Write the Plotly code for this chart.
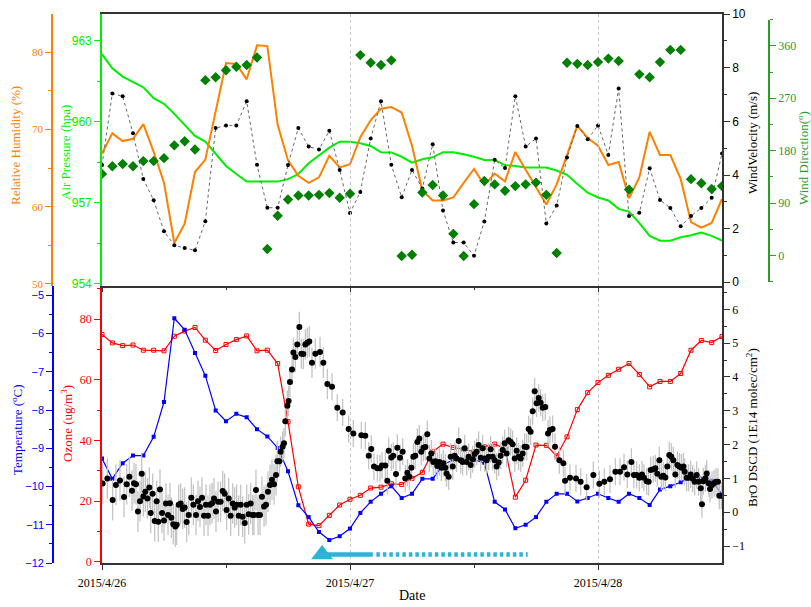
import pandas as pd
import plotly.graph_objects as go

# ---------------- data ----------------
BASE = pd.Timestamp("2015-04-26")
hours = list(range(61))

rh = [66.9, 69.5, 68.5, 68.8, 70.7, 67.1, 63.1, 55.3, 57.8, 64.5, 66.1, 72.5, 78.6, 78.5, 76.5,
      80.9, 80.8, 70.6, 66.0, 64.0, 63.1, 63.8, 66.6, 65.1, 65.5, 69.0, 71.2, 72.7, 72.9, 72.2,
      67.9, 62.1, 60.8, 60.8, 61.2, 63.1, 64.9, 62.8, 64.3, 63.3, 67.1, 64.8, 62.6, 60.3, 62.9,
      66.6, 70.5, 68.9, 67.9, 65.4, 65.8, 61.1, 63.8, 69.7, 66.7, 66.7, 63.6, 58.0, 57.3, 57.9, 61.0]
pressure = [962.51, 961.99, 961.68, 961.49, 961.28, 960.88, 960.67, 960.30, 959.89, 959.48, 959.27,
            958.81, 958.37, 958.07, 957.79, 957.79, 957.79, 957.79, 957.88, 958.07, 958.47, 958.75,
            959.05, 959.27, 959.27, 959.21, 959.11, 958.88, 958.87, 958.71, 958.49, 958.62, 958.69,
            958.88, 958.88, 958.80, 958.71, 958.59, 958.59, 958.40, 958.37, 958.31, 958.31, 958.31,
            958.20, 958.04, 957.70, 957.38, 957.20, 957.09, 956.78, 956.68, 956.25, 955.78, 955.60,
            955.60, 955.73, 955.80, 955.90, 955.78, 955.60]
wind_speed = [4.37, 7.04, 6.94, 5.56, 3.85, 3.06, 1.90, 1.38, 1.28, 1.19, 2.28, 5.75, 5.85, 5.85,
              6.75, 4.38, 2.78, 2.78, 4.37, 5.75, 5.06, 4.95, 5.65, 4.19, 2.58, 3.37, 5.36, 6.75,
              4.38, 3.17, 4.19, 3.50, 5.15, 2.68, 1.48, 1.48, 0.99, 2.27, 4.57, 4.26, 6.94, 5.06,
              5.36, 2.19, 2.86, 4.65, 5.83, 5.33, 5.85, 4.75, 7.23, 2.47, 2.59, 4.25, 3.07, 2.77,
              2.09, 2.47, 2.77, 3.15, 4.80]
wind_dir = [140, 153, 157, 153, 162, 162, 167, 189, 196, 182, 301, 306, 318, 324, 327, 340, 11, 68,
            96, 103, 103, 104, 107, 99, 106, 344, 331, 327, 335, -1, 1, 108, 121, 103, 37, -1, 88,
            128, 122, 111, 119, 122, 125, 104, 4, 331, 329, 327, 332, 338, 334, 113, 311, 306, 332,
            353, 353, 131, 124, 114, 119]
ozone = [75.0, 72.2, 71.3, 71.5, 69.8, 69.8, 69.6, 74.4, 76.1, 77.3, 73.1, 69.7, 71.7, 73.3, 74.5,
         69.6, 69.8, 65.4, 46.2, 24.7, 12.4, 11.9, 15.3, 18.7, 20.6, 21.9, 24.3, 24.6, 25.7, 25.5,
         27.5, 29.5, 36.3, 38.8, 37.7, 37.1, 36.3, 37.9, 38.8, 37.4, 21.3, 26.9, 38.5, 38.4, 34.9,
         41.2, 50.2, 55.8, 59.1, 61.5, 63.5, 65.4, 61.8, 57.7, 59.5, 59.5, 62.1, 69.8, 73.0, 72.3, 74.3]
temperature = [-9.27, -9.80, -9.39, -9.19, -9.19, -8.70, -7.79, -5.60, -5.90, -6.51, -7.10, -8.01,
               -8.29, -8.10, -8.19, -8.50, -8.69, -8.99, -9.60, -10.49, -10.80, -11.19, -11.40,
               -11.30, -11.10, -10.69, -10.40, -10.19, -9.99, -10.30, -10.19, -9.80, -9.80, -9.43,
               -9.30, -9.30, -9.30, -9.38, -10.40, -10.60, -11.09, -11.00, -10.80, -10.40, -10.19,
               -10.19, -10.39, -10.30, -10.19, -10.30, -10.40, -10.19, -10.30, -10.48, -10.08,
               -9.99, -9.89, -9.75, -9.80, -9.85, -10.20]

bro_hours = [0.06, 0.52, 1.03, 1.35, 1.74, 2.13, 2.39, 2.65, 2.90, 3.10, 3.29, 3.48, 3.68, 3.84, 4.00,
             4.19, 4.39, 4.58, 4.71, 4.90, 5.10, 5.29, 5.45, 5.61, 5.81, 6.00, 6.19, 6.39, 6.58, 6.71,
             6.90, 7.10, 7.23, 7.42, 7.61, 7.81, 8.00, 8.19, 8.39, 8.65, 8.84, 9.10, 9.29, 9.48, 9.68,
             9.87, 10.06, 10.26, 10.45, 10.65, 10.84, 11.03, 11.23, 11.48, 11.68, 11.87, 12.06, 12.26,
             12.45, 12.65, 12.84, 13.03, 13.23, 13.42, 13.61, 13.81, 14.00, 14.19, 14.39, 14.58, 14.71,
             14.90, 15.10, 15.29, 15.48, 15.68, 15.87, 16.06, 16.26, 16.45, 16.65, 16.84, 16.97, 17.16,
             17.29, 17.48, 17.61, 17.74, 17.94, 18.06, 18.19, 18.39, 18.52, 18.71, 18.90, 19.10, 19.29,
             19.48, 19.68, 19.87, 20.06, 20.32, 20.65,
             21.10, 21.42, 21.81, 22.26, 22.77, 23.29, 23.87, 24.32, 25.10, 25.48, 25.81, 26.06, 26.32,
             26.65, 26.90, 27.10, 27.42, 27.61, 27.74, 28.00, 28.19, 28.45, 28.58, 28.84, 29.10, 29.35,
             29.55, 29.74, 29.94, 30.13, 30.32, 30.52, 30.71, 30.90, 31.10, 31.29, 31.48, 31.68, 31.87,
             32.06, 32.26, 32.45, 32.65, 32.84, 33.03, 33.23, 33.35, 33.55, 33.74, 33.94, 34.13, 34.32,
             34.52, 34.71, 34.90, 35.10, 35.29, 35.48, 35.68, 35.87, 36.06, 36.26, 36.45, 36.65, 36.84,
             37.03, 37.23, 37.42, 37.61, 37.81, 38.00, 38.19, 38.39, 38.58, 38.77, 38.97, 39.16, 39.35,
             39.55, 39.74, 39.94, 40.13, 40.32, 40.52, 40.71, 40.90, 41.10, 41.29, 41.48, 41.68, 41.87,
             42.06, 42.26, 42.45, 42.65, 42.90, 43.16,
             43.35, 43.61, 43.84, 44.26, 44.65, 44.81, 45.29, 45.87, 46.32, 46.90, 47.55, 48.13, 48.61,
             49.16, 49.68, 50.13, 50.52, 50.84, 51.23, 51.48, 51.74, 52.00, 52.26, 52.45, 52.71, 52.90,
             53.10, 53.35, 53.55, 53.74, 53.94, 54.13, 54.32, 54.52, 54.71, 54.90, 55.10, 55.29, 55.48,
             55.68, 55.87, 56.06, 56.26, 56.39, 56.58, 56.77, 56.97, 57.16, 57.35, 57.55, 57.74, 57.94,
             58.06, 58.19, 58.39, 58.52, 58.71, 58.84, 59.03, 59.23, 59.42, 59.61, 59.74, 59.94]
bro = [0.85, 1.00, 0.36, 0.81, 0.94, 0.45, 0.83, 1.05, 0.64, 0.86, 0.83, 0.02, 0.33, 1.14, 0.47,
       0.61, 0.41, 0.73, -0.02, 0.55, -0.26, 0.33, -0.28, 0.67, -0.02, -0.24, 0.26, -0.08, 0.27, -0.16,
       -0.35, -0.42, -0.37, 0.22, 0.26, 0.10, 0.14, -0.29, -0.08, 0.43, 0.22, -0.08, 0.33, 0.16, 0.43,
       -0.10, 0.22, -0.10, 0.22, 0.27, 0.41, 0.02, 0.31, 0.31, 0.63, 0.55, 0.07, 0.41, -0.10, 0.26,
       0.14, 0.22, -0.10, 0.22, -0.13, -0.32, 0.22, -0.06, 0.26, -0.08, -0.08, 0.66, -0.08, -0.08,
       0.46, 0.17, 0.22, 0.61, 0.81, 0.96, 0.83, 1.10, 1.51, 1.51, 1.79, 1.94, 2.04, 2.69, 3.15, 3.29,
       3.85, 4.22, 4.72, 4.59, 4.96, 5.48, 4.69, 4.68, 4.96, 5.01, 5.05, 4.42, 4.69,
       4.74, 4.42, 3.79, 3.71, 3.09, 2.95, 2.46, 2.33, 2.28, 2.26, 1.67, 1.87, 1.35, 1.30, 1.30, 1.38,
       1.38, 0.93, 1.82, 1.62, 1.67, 1.13, 1.91, 1.61, 1.79, 1.00, 1.17, 1.05, 1.32, 1.64, 1.67, 2.08,
       2.18, 1.79, 1.91, 1.93, 2.31, 1.59, 1.74, 1.49, 1.51, 1.37, 1.49, 1.32, 1.45, 1.32, 1.15, 1.05,
       1.64, 1.35, 1.67, 1.59, 2.11, 1.54, 1.49, 1.89, 1.49, 1.64, 1.40, 1.57, 1.72, 1.79, 1.99, 1.61,
       1.89, 1.59, 1.54, 1.64, 1.86, 1.64, 1.54, 1.35, 1.47, 1.67, 1.84, 2.04, 1.74, 2.13, 2.08, 2.01,
       1.59, 1.82, 1.64, 1.59, 1.74, 1.94, 1.93, 2.46, 2.38, 2.99, 3.58, 3.22, 3.38, 3.24, 3.09, 3.11,
       2.33,
       2.43, 2.46, 1.94, 1.54, 1.45, 0.93, 1.02, 1.00, 0.90, 0.74, 1.10, 0.84, 0.90, 0.98, 1.20, 1.20,
       1.33, 1.12, 1.49, 1.10, 1.10, 1.02, 1.12, 1.02, 0.92, 0.90, 1.25, 1.27, 1.30, 1.14, 1.54, 1.05,
       1.08, 1.03, 1.35, 1.69, 1.64, 1.54, 1.12, 1.40, 1.35, 1.32, 1.35, 1.20, 1.02, 1.02, 1.12, 1.00,
       0.90, 1.10, 0.90, 0.71, 0.24, 0.92, 1.00, 1.15, 0.86, 0.69, 0.81, 0.86, 0.90, 0.90, 0.49, 0.49]
# approximate half-length of the grey error bars, by period (start hour, end hour, error)
bro_err_periods = [(0, 17, 0.6), (17, 22, 0.45), (22, 61, 0.4)]

# start of event marker and arrow (hours after 2015/4/26 00:00), ozone-axis height
event_hour = 21.3
event_solid_end = 26.2
event_dash_end = 41.2
event_level = 2.4

day_ticks = [0, 24, 48]
day_labels = ["2015/4/26", "2015/4/27", "2015/4/28"]
half_day_ticks = [12, 36]

# ---------------- helpers ----------------
def t(h):
    return BASE + pd.Timedelta(hours=h)

times = [t(h) for h in hours]
bro_times = [t(h) for h in bro_hours]
bro_err = []
for h in bro_hours:
    for a, b, e in bro_err_periods:
        if a <= h < b:
            bro_err.append(e)
            break

W, H = 811, 607
def px(x):
    return x / W
def py(y):
    return 1 - y / H

XD = [px(102), px(722)]
TOPD = [py(285.5), py(14)]
BOTD = [py(563), py(285.5)]

SERIF = "Liberation Serif, Times New Roman, serif"
SANS = "Liberation Sans, Arial, sans-serif"

ORANGE = "#FF8000"
LGREEN = "#00EE00"
DGREEN = "#007F00"
RED = "#FF0000"
BLUE = "#0000FF"
CYAN = "#2AB4D6"
FRAME = "#333333"
TICKSIZE = 12

fig = go.Figure()

# ---- top panel ----
fig.add_trace(go.Scatter(x=times, y=pressure, xaxis="x2", yaxis="y4", mode="lines",
                         line=dict(color=LGREEN, width=2), hoverinfo="skip"))
fig.add_trace(go.Scatter(x=times, y=rh, xaxis="x2", yaxis="y5", mode="lines",
                         line=dict(color=ORANGE, width=2), hoverinfo="skip"))
fig.add_trace(go.Scatter(x=times, y=wind_speed, xaxis="x2", yaxis="y6", mode="lines+markers",
                         line=dict(color="#666666", width=1, dash="dot"),
                         marker=dict(color="black", size=4), hoverinfo="skip"))
fig.add_trace(go.Scatter(x=times, y=wind_dir, xaxis="x2", yaxis="y7", mode="markers",
                         marker=dict(color=DGREEN, size=8, symbol="diamond"), hoverinfo="skip"))

# ---- bottom panel ----
fig.add_trace(go.Scatter(x=times, y=ozone, xaxis="x", yaxis="y", mode="lines+markers",
                         line=dict(color=RED, width=1.2),
                         marker=dict(symbol="square-open", size=4, color=RED, line=dict(width=1)),
                         hoverinfo="skip"))
fig.add_trace(go.Scatter(x=[t(event_hour), t(event_solid_end)], y=[event_level, event_level],
                         xaxis="x", yaxis="y", mode="lines",
                         line=dict(color=CYAN, width=4.5), hoverinfo="skip"))
fig.add_trace(go.Scatter(x=[t(event_solid_end + 0.35), t(event_dash_end)], y=[event_level, event_level],
                         xaxis="x", yaxis="y", mode="lines",
                         line=dict(color=CYAN, width=4.5, dash="3.5px,3px"), hoverinfo="skip"))
fig.add_trace(go.Scatter(x=[t(event_hour)], y=[event_level], xaxis="x", yaxis="y", mode="markers",
                         marker=dict(symbol="triangle-up", size=19, color=CYAN), hoverinfo="skip"))
fig.add_trace(go.Scatter(x=times, y=temperature, xaxis="x", yaxis="y2", mode="lines+markers",
                         line=dict(color=BLUE, width=1.2),
                         marker=dict(symbol="square", size=4, color=BLUE), hoverinfo="skip"))
fig.add_trace(go.Scatter(x=bro_times, y=bro, xaxis="x", yaxis="y3", mode="markers",
                         marker=dict(color="black", size=6),
                         error_y=dict(type="data", array=bro_err, color="#C4C4C4", thickness=1.3, width=0),
                         hoverinfo="skip"))

# ---------------- layout ----------------
xrange = [t(0), t(60)]
tickfont_serif = dict(family=SERIF, size=TICKSIZE, color="black")

def xaxis_common(**kw):
    d = dict(type="date", domain=XD, range=xrange, automargin=False,
             tickmode="array", tickvals=[t(h) for h in day_ticks], ticktext=day_labels,
             ticks="outside", ticklen=5, tickwidth=1.3, tickcolor=FRAME,
             minor=dict(tickmode="array", tickvals=[t(h) for h in half_day_ticks],
                        ticks="outside", ticklen=3, tickcolor=FRAME, showgrid=False),
             showline=True, linecolor=FRAME, linewidth=1.5,
             showgrid=True, gridcolor="#C8C8C8", griddash="dot", gridwidth=1,
             zeroline=False, tickfont=tickfont_serif)
    d.update(kw)
    return d

def yaxis_common(color, rng, dtick, minor_dtick, tick0, font, size=TICKSIZE, **kw):
    d = dict(range=rng, tickmode="linear", tick0=tick0, dtick=dtick, automargin=False,
             ticks="outside", ticklen=6, tickwidth=1.3, tickcolor=color,
             minor=dict(ticks="outside", ticklen=3.5, tickcolor=color, dtick=minor_dtick,
                        tick0=tick0, showgrid=False),
             showline=True, linecolor=color, linewidth=1.6,
             showgrid=False, zeroline=False,
             tickfont=dict(family=font, size=size, color=color))
    d.update(kw)
    return d

fig.update_layout(
    width=W, height=H, autosize=False,
    margin=dict(l=0, r=0, t=0, b=0, pad=0),
    paper_bgcolor="white", plot_bgcolor="rgba(0,0,0,0)",
    showlegend=False,
    xaxis=xaxis_common(anchor="y", mirror=False, ticklabelstandoff=3),
    xaxis2=xaxis_common(anchor="y4", matches="x", showticklabels=False, mirror=True),
    # bottom panel
    yaxis=yaxis_common(RED, [-0.43, 91.15], 20, 10, 0, SERIF, domain=BOTD, anchor="x"),
    yaxis2=yaxis_common(BLUE, [-12.0, -4.743], 1, 0.5, -12, SANS, size=11, overlaying="y",
                        anchor="free", position=px(53), side="left"),
    yaxis3=yaxis_common(FRAME, [-1.499, 6.704], 1, 0.5, -1, SERIF, overlaying="y",
                        anchor="x", side="right"),
    # top panel
    yaxis4=yaxis_common(LGREEN, [953.94, 964.0], 3, 1.5, 954, SANS, domain=TOPD, anchor="x2"),
    yaxis5=yaxis_common(ORANGE, [49.8, 84.96], 10, 5, 50, SERIF, size=11, overlaying="y4",
                        anchor="free", position=px(52), side="left"),
    yaxis6=yaxis_common(FRAME, [-0.12, 10.005], 2, 1, 0, SANS, overlaying="y4",
                        anchor="x2", side="right"),
    yaxis7=yaxis_common("#2E9A2E", [-45, 405], 90, 45, 0, SERIF,
                        domain=[py(281.6), py(19.6)], anchor="free", position=px(769), side="right"),
)
fig.update_layout(yaxis3=dict(tickfont=dict(color="black")), yaxis6=dict(tickfont=dict(color="black")))
fig.update_layout(yaxis7=dict(tickvals=[0, 90, 180, 270, 360], tickmode="array"))
fig.update_layout(yaxis5=dict(tickvals=[50, 60, 70, 80], tickmode="array"),
                  yaxis4=dict(tickvals=[954, 957, 960, 963], tickmode="array"))

title_font = dict(family=SERIF, size=13)
titles = [
    ("Relative Humidity (%)", 15, 146, ORANGE),
    ("Air Pressure (hpa)", 65, 153, LGREEN),
    ("WindVelocity (m/s)", 753, 143, "black"),
    ("Wind Direction(<sup>o</sup>)", 803, 158, "#2E9A2E"),
    ("Temperature (<sup>o</sup>C)", 17, 430, BLUE),
    ("Ozone (ug/m<sup>3</sup>)", 67, 424, RED),
    ("BrO DSCD (1E14 molec/cm<sup>2</sup>)", 752, 428, "black"),
]
for text, x, y, c in titles:
    fig.add_annotation(text=text, x=px(x), y=py(y), xref="paper", yref="paper",
                       textangle=-90, showarrow=False, xanchor="center", yanchor="middle",
                       font=dict(color=c, **title_font))
fig.add_annotation(text="Date", x=px(412), y=py(595), xref="paper", yref="paper",
                   showarrow=False, xanchor="center", yanchor="middle",
                   font=dict(color="black", family=SERIF, size=14))

fig.write_html("out.html", config={"displayModeBar": False},
               post_script="document.body.style.margin='0px';")
